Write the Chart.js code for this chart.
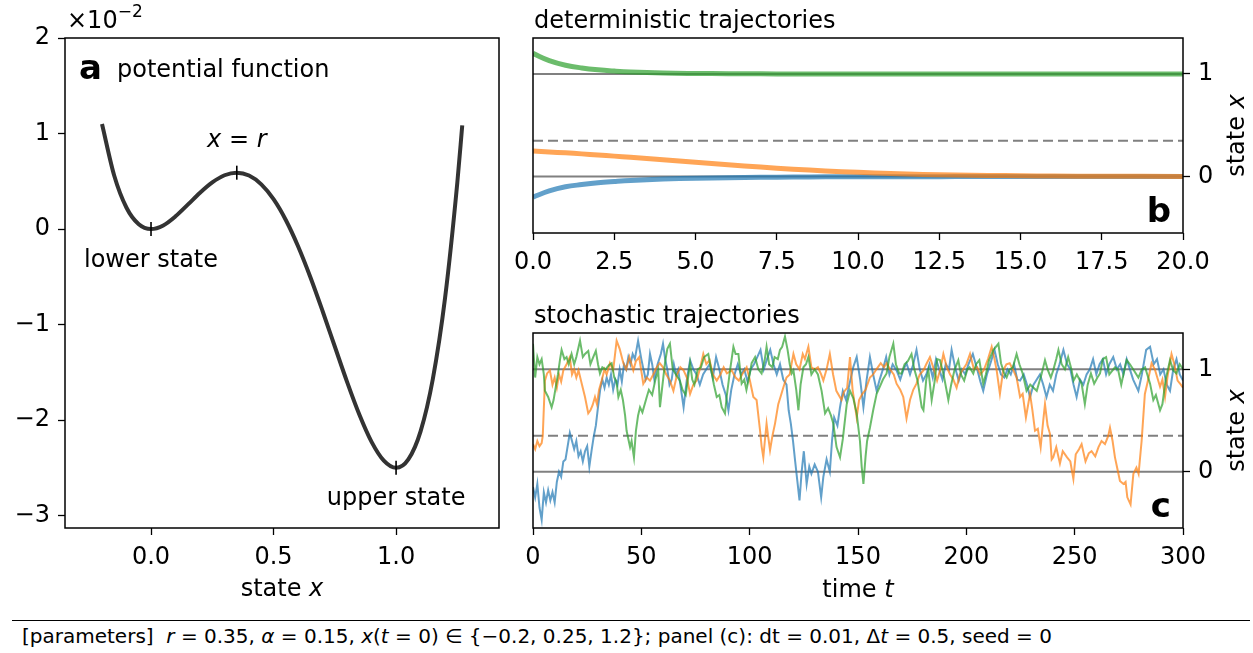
<!DOCTYPE html>
<html>
<head>
<meta charset="utf-8">
<script src="https://cdn.jsdelivr.net/npm/chart.js@4.4.1/dist/chart.umd.min.js"></script>
<style>
  body { margin: 0; background: #fff; width: 1253px; height: 653px; position: relative; overflow: hidden; font-family: "DejaVu Sans", sans-serif; }
  canvas { position: absolute; }
  #potChart { left: 0; top: 0; }
  #detChart { left: 500px; top: 0; }
  #stochChart { left: 500px; top: 300px; }
  #rule { position: absolute; left: 12px; top: 620px; width: 1238px; border-top: 1px solid #000; }
  #params { position: absolute; left: 22px; top: 624px; font-size: 20px; white-space: pre; color: #000; }
</style>
</head>
<body>
<canvas id="potChart" width="520" height="605"></canvas>
<canvas id="detChart" width="753" height="300"></canvas>
<canvas id="stochChart" width="753" height="305"></canvas>
<div id="rule"></div>
<div id="params">[parameters]  <i>r</i> = 0.35, <i>α</i> = 0.15, <i>x</i>(<i>t</i> = 0) ∈ {−0.2, 0.25, 1.2}; panel (c): dt = 0.01, Δ<i>t</i> = 0.5, seed = 0</div>
<script>
/* ---------- data ---------- */

// panel a: potential V(x), in units of 1e-2
var potX = [-0.2, -0.15, -0.1, -0.05, 0, 0.05, 0.1, 0.15, 0.2, 0.25, 0.3, 0.35, 0.4, 0.45, 0.5, 0.55, 0.6, 0.65,
            0.7, 0.75, 0.8, 0.85, 0.9, 0.95, 1.0, 1.05, 1.1, 1.15, 1.2, 1.25, 1.27];
var potV = [1.10, 0.558, 0.223, 0.050, 0, 0.038, 0.133, 0.255, 0.380, 0.488, 0.563, 0.590, 0.560, 0.468, 0.313, 0.095, -0.180, -0.502,
            -0.858, -1.230, -1.600, -1.942, -2.228, -2.425, -2.500, -2.412, -2.118, -1.570, -0.720, 0.488, 1.085];
var markX = [0, 0.35, 1.0];
var markV = [0, 0.590, -2.500];
var potTicksX = [0, 0.5, 1.0];
var potTicksY = [-3, -2, -1, 0, 1, 2];

// reference levels (stable states and threshold r)
var stableStates = [0, 1];
var thresholdR = 0.35;

// panel b: deterministic trajectories
var detT    = [0, 0.5, 1, 1.5, 2, 2.5, 3, 4, 5, 6, 7, 8, 9, 10, 11, 12, 13, 14, 15, 16, 17.5, 20];
var detLow  = [-0.2, -0.14, -0.1, -0.078, -0.06, -0.048, -0.038, -0.025, -0.016, -0.011, -0.007, -0.005, -0.003, -0.002,
               -0.0015, -0.001, -0.0007, -0.0005, -0.0003, -0.0002, -0.0001, 0];
var detMid  = [0.25, 0.24, 0.231, 0.221, 0.21, 0.199, 0.188, 0.164, 0.14, 0.115, 0.092, 0.072, 0.055, 0.041,
               0.03, 0.021, 0.015, 0.011, 0.008, 0.005, 0.003, 0.001];
var detHigh = [1.2, 1.13, 1.085, 1.058, 1.04, 1.028, 1.019, 1.009, 1.0045, 1.002, 1.001, 1.0, 1.0, 1.0,
               1.0, 1.0, 1.0, 1.0, 1.0, 1.0, 1.0, 1.0];
var detTicksT = [0, 2.5, 5, 7.5, 10, 12.5, 15, 17.5, 20];

// panel c: stochastic trajectories, [time, state]
var stochLow = [[0,-0.15],[1,-0.25],[2,-0.12],[3,-0.35],[4,-0.47],[5,-0.2],[6,-0.3],[7,-0.18],[8,-0.28],[9,-0.2],[10,-0.3],
  [11,-0.1],[12,0.0],[13,-0.05],[14,0.1],[15,0.12],[16,0.25],[17,0.38],[18,0.3],[19,0.22],[20,0.3],[21,0.15],[22,0.2],
  [23,0.1],[24,0.2],[25,0.25],[26,0.05],[27,0.2],[28,0.34],[29,0.45],[30,0.63],[31,0.8],[32,0.9],[33,0.82],[34,0.92],
  [35,0.85],[36,0.95],[37,0.8],[38,0.9],[39,0.85],[40,1.0],[41,0.88],[42,1.05],[43,1.0],[44,1.12],[45,1.05],[46,1.15],
  [47,1.1],[48.5,1.28],[50,1.1],[51,1.0],[52,0.9],[53,0.95],[54,1.15],[55,1.05],[56,0.9],[57.5,1.05],[59,1.15],[60,1.25],
  [61,1.1],[62,1.0],[63,0.85],[64,0.9],[65,1.05],[66,0.95],[67,1.0],[68,0.85],[69.5,0.63],[71,0.9],[72.5,1.09],[74,1.0],
  [75.5,0.95],[77,0.85],[78.5,0.95],[80,1.0],[81.5,1.05],[83,0.92],[84.5,1.12],[86,1.0],[87.5,0.85],[89,0.75],[90.2,0.6],
  [91.5,0.8],[93,0.95],[94.5,1.05],[96,0.95],[97.5,1.0],[99,0.88],[100.5,1.0],[102,1.05],[103.5,1.12],[105,1.19],
  [106.5,1.0],[108,1.1],[109.5,1.19],[111,1.05],[112.5,0.95],[114,1.05],[115.5,0.9],[117,0.85],[118,0.6],[119,0.47],
  [120,0.3],[121,0.1],[122,-0.09],[123,-0.28],[124,0.0],[125,0.2],[126.3,-0.12],[127.5,0.05],[128.5,-0.02],[130,0.07],
  [131.5,0.0],[133,-0.25],[134,-0.05],[135.5,0.12],[137,0.0],[138,0.3],[139,0.53],[140.5,0.45],[141.7,0.63],[143,0.79],
  [144.5,0.7],[146,0.85],[147.8,1.02],[149.4,1.12],[151,0.9],[152.5,0.63],[154,0.9],[155.5,1.12],[157,0.95],[158.6,0.79],
  [160,0.9],[161.5,1.0],[163,1.12],[164.5,0.95],[166,1.05],[167.8,0.99],[169.5,0.9],[171,1.0],[172.4,1.06],[174,0.95],
  [175.5,1.05],[177,1.19],[178.5,1.0],[180,0.89],[181.5,0.95],[183,1.05],[184.5,0.92],[186,1.1],[187.5,1.0],[189,0.9],
  [190.5,1.05],[192,1.0],[193.2,1.19],[195,1.0],[196.5,0.89],[198,1.0],[199.5,0.95],[201,1.05],[203,1.15],[205,1.0],
  [206.5,0.88],[207.8,0.79],[209.5,0.95],[211,1.05],[213,1.19],[214.5,1.05],[216,0.95],[217.5,0.92],[219,1.0],[220.5,0.95],
  [222,1.05],[223.5,0.9],[224.8,0.89],[226.5,0.95],[228,0.85],[229.4,0.73],[231,0.85],[232.5,0.9],[234,0.95],[235.5,0.85],
  [237,0.73],[238.5,0.85],[240,0.79],[241.5,0.95],[243,1.05],[244.8,1.19],[246.5,1.05],[248,1.0],[249.5,0.85],[250.9,0.73],
  [252.5,0.9],[254,0.85],[255.5,0.95],[257,1.0],[258.5,1.1],[260,0.95],[261.5,1.05],[263,1.1],[264.5,0.95],[266,1.05],
  [267.8,1.12],[269.5,1.0],[271,1.05],[272.5,0.95],[274,1.1],[275.5,1.0],[277,0.9],[279.4,0.79],[281,0.95],[283,1.19],
  [284.8,1.22],[286.5,1.05],[288,1.1],[289.5,0.95],[291,1.0],[292.5,0.85],[294,0.79],[295.5,1.0],[297,1.1],[298.5,0.95],[300,0.89]];

var stochMid = [[0,0.27],[1,0.22],[2,0.3],[3,0.25],[4,0.28],[4.5,0.35],[5.5,0.89],[6.5,0.96],[7.8,0.99],[9,0.85],[10,0.92],
  [11,0.82],[12,0.95],[13,0.88],[14,0.99],[15.5,1.05],[17,1.12],[18,0.95],[19,1.0],[20,0.92],[21,0.99],[22.5,0.86],[24,0.73],
  [25.5,0.57],[26.5,0.6],[27.5,0.65],[28.6,0.73],[29.5,0.66],[30.5,0.8],[31.7,0.89],[33,1.0],[34,0.95],[35.5,1.06],[37,0.99],
  [38.6,1.28],[40,1.2],[41.7,1.06],[43,1.0],[44.5,1.12],[46.3,0.99],[47.5,1.08],[49,1.12],[50.9,0.86],[52.5,0.92],[54,0.89],
  [55.5,0.95],[57.1,1.02],[58.5,1.06],[60,1.02],[61.5,0.95],[63.2,0.89],[64.8,0.79],[66.5,0.95],[68,1.02],[69.5,0.99],
  [71,0.92],[72.5,0.76],[74,0.85],[75.5,0.89],[77,1.0],[78.6,1.15],[80,1.05],[81.5,1.09],[83,0.95],[84.8,0.89],[86.5,0.95],
  [88,1.02],[89.5,0.96],[91.7,0.99],[93.5,0.92],[95,0.89],[96.5,0.95],[98.6,1.02],[100,0.9],[101.7,0.73],[103.2,0.7],
  [104.8,0.4],[105.5,0.25],[106.3,0.14],[107,0.3],[107.8,0.47],[108.5,0.35],[109.4,0.21],[110.5,0.35],[111.7,0.47],
  [113.2,0.66],[114.5,0.75],[115.5,0.82],[117,0.92],[118.5,0.95],[119.4,1.06],[120.2,1.15],[121.5,1.05],[123,1.0],
  [124.5,1.15],[125.5,1.1],[127.1,1.22],[128.5,1.02],[130,1.0],[131.5,1.02],[133,0.95],[134,0.89],[135.5,1.0],[137,1.15],
  [138.5,0.95],[140,0.79],[142.4,0.7],[143.5,0.78],[145,0.82],[146.3,1.12],[147.5,0.8],[149.4,0.53],[150.5,0.7],[152,0.76],
  [153.5,0.8],[155.5,0.92],[157,0.95],[158.5,1.0],[160.5,1.06],[162,1.02],[163.2,1.06],[164.8,1.0],[166.5,0.95],[167.8,0.86],
  [169.5,0.8],[170.9,0.73],[172.4,0.52],[174,0.7],[175.5,0.8],[177,0.86],[178.5,0.95],[180.2,0.99],[181.5,1.05],[183.2,1.12],
  [185,1.0],[186.5,0.89],[188,1.0],[189.4,1.15],[191,1.02],[192.5,0.95],[194,0.9],[195.5,0.82],[197,0.95],[198.5,1.0],
  [200,1.05],[201.7,1.15],[203.5,1.0],[205,1.02],[206.5,0.95],[208,0.99],[210,1.1],[211.7,1.22],[213,1.1],[214,0.99],
  [215.5,0.76],[217,0.99],[218.5,1.05],[220,1.06],[221.5,1.0],[223.2,0.92],[224.8,0.73],[226,0.76],[227.5,0.53],[229.4,0.76],
  [230.5,0.6],[231.7,0.4],[233,0.42],[234.3,0.24],[235.5,0.5],[236.3,0.66],[237.5,0.45],[238.6,0.37],[239.4,0.12],
  [240.1,0.14],[241.5,0.24],[243.2,0.08],[244.5,0.2],[246.5,0.14],[248,0.1],[249.4,-0.07],[250.5,0.17],[252,0.22],
  [253.2,0.27],[255,0.1],[256.5,0.18],[257.8,0.2],[259.5,0.15],[261,0.24],[262.4,0.3],[264,0.27],[265.5,0.35],[266.3,0.43],
  [267.5,0.3],[268.6,0.14],[270,0.0],[270.9,-0.09],[272.5,-0.12],[273.5,-0.1],[274.3,-0.25],[275.8,-0.32],[277.1,-0.02],
  [278.5,0.04],[279.5,-0.02],[280.9,0.3],[282.4,0.76],[283.5,0.86],[285.5,1.06],[287,1.0],[289.4,0.83],[290.5,0.9],
  [291.7,0.73],[293,0.95],[294.7,1.15],[296,1.05],[297.5,0.89],[299,0.85],[300,0.82]];

var stochHigh = [[0,1.25],[1,0.92],[2,1.12],[3,1.05],[4,1.1],[5,0.95],[5.5,0.79],[7,0.73],[8.6,0.63],[9.5,0.7],[10.2,0.79],
  [11.5,0.95],[12.5,1.1],[13.2,1.19],[14.5,1.1],[15.5,1.12],[16.5,1.05],[17.8,1.15],[19,1.05],[20,1.12],[21.7,1.28],[23,1.12],
  [24,1.15],[25.5,1.18],[26.5,1.05],[27.8,1.12],[29,1.18],[30,1.05],[30.9,0.96],[32,1.02],[33.5,1.0],[35,1.04],[36.3,1.06],
  [37.5,0.92],[38.5,0.88],[39.4,0.73],[40.5,0.8],[41.5,0.7],[42.5,0.55],[43.2,0.4],[44,0.32],[44.8,0.24],[45.5,0.3],
  [46.6,0.14],[47.5,0.4],[48.5,0.55],[49.4,0.63],[50.5,0.58],[52.5,0.73],[53.5,0.8],[55,0.75],[56.5,0.9],[57.8,0.99],
  [58.6,0.63],[59.5,0.8],[60.9,1.06],[62,1.2],[63.2,1.25],[64.5,1.0],[66,0.95],[67.8,0.89],[69,0.8],[70.5,0.75],[72.5,1.06],
  [73.5,0.9],[74.5,0.85],[76,1.0],[77.5,1.02],[79,1.12],[80.9,1.15],[82,1.02],[83.5,0.85],[84.8,0.73],[86,0.75],[87.1,0.63],
  [88.6,0.57],[89.5,0.75],[91,1.0],[92.5,1.22],[93.5,1.15],[94.8,1.15],[96.3,0.86],[97.5,0.9],[98.5,0.8],[100,0.95],
  [100.9,1.06],[102.5,1.12],[104,1.0],[105.5,0.96],[107,1.1],[107.8,1.22],[109,1.05],[110.5,1.02],[111.5,1.12],[113,1.1],
  [114,1.19],[115,1.22],[116.3,1.32],[117.5,1.19],[118.5,1.05],[119.4,0.96],[120.2,0.99],[121.5,0.8],[122.5,0.6],[123.5,0.85],
  [124.8,1.02],[126,1.05],[127.1,1.12],[128.5,0.95],[130,1.0],[131.5,0.95],[133.2,0.79],[134.8,0.57],[136.2,0.62],[137.5,0.55],
  [138.6,0.47],[140.1,0.24],[141.7,0.14],[143,0.32],[144.8,0.66],[146.3,0.79],[147.8,0.72],[149.4,0.57],[150.9,0.3],
  [151.7,0.05],[152.5,-0.12],[153.5,0.15],[154.2,0.3],[155.5,0.43],[157,0.6],[158.6,0.76],[160.5,0.85],[161.5,0.9],
  [163.2,0.96],[164.5,1.12],[166.3,1.25],[167.5,1.05],[169,0.96],[170.1,0.96],[171.5,1.05],[173,1.08],[174.7,1.15],[176,1.0],
  [177.5,0.89],[179.4,0.63],[180.2,0.6],[181.5,0.9],[182.5,0.99],[184,0.7],[185.5,0.9],[186.5,1.1],[187.8,1.09],[189.5,0.95],
  [191.7,0.7],[193,0.85],[194.5,0.99],[196.3,1.09],[197.5,0.95],[199,0.89],[200.5,1.0],[201.5,1.02],[203.2,0.96],[204.5,1.05],
  [206,1.09],[207.8,0.86],[209,0.95],[210.5,1.09],[212.5,1.19],[214.8,1.25],[216,1.06],[217.5,0.96],[218.6,0.92],[220,1.0],
  [221.5,1.02],[223.2,1.15],[224.5,1.05],[226,0.96],[227.8,0.79],[229.5,0.85],[231,0.82],[232.5,0.79],[234,0.9],[234.8,0.96],
  [236.3,1.09],[237.5,1.0],[239,0.92],[240.1,0.99],[241.5,1.1],[242.5,1.19],[244,1.05],[245.5,1.0],[247,1.12],[248.5,1.0],
  [249.5,0.89],[251,0.95],[253.2,0.86],[254.7,0.66],[256,0.85],[257.5,0.96],[259,0.86],[260.5,0.92],[261.7,0.96],[263,1.1],
  [264.5,1.12],[266,0.95],[268.6,1.02],[270,1.0],[271.5,0.85],[272.5,0.95],[274,1.09],[275.5,1.05],[277,1.0],[279.4,0.92],
  [281,1.0],[282.5,1.02],[284.8,0.86],[286.3,0.7],[287.5,0.75],[289.4,0.6],[290.5,0.66],[292,0.9],[294,1.09],[295.5,0.99],
  [297,0.96],[298.5,1.05],[300,1.0]];
var stochTicksT = [0, 50, 100, 150, 200, 250, 300];
var stateTicks = [0, 1];

/* ---------- helpers ---------- */

var FAM = '"DejaVu Sans", sans-serif';
var blueC   = 'rgba(31, 119, 180, 0.7)';
var orangeC = 'rgba(255, 127, 14, 0.7)';
var greenC  = 'rgba(44, 160, 44, 0.7)';
var greyC   = '#808080';

function font(size, style) { return (style || '') + ' ' + size + 'px ' + FAM; }

// draw mixed-style text: parts = [[text, font, dy], ...]
function richText(ctx, parts, x, y, align) {
	var w = 0;
	parts.forEach(function (p) { ctx.font = p[1]; p.w = ctx.measureText(p[0]).width; w += p.w; });
	var cx = align === 'center' ? x - w / 2 : (align === 'right' ? x - w : x);
	ctx.textAlign = 'left';
	ctx.textBaseline = 'alphabetic';
	ctx.fillStyle = '#000';
	parts.forEach(function (p) { ctx.font = p[1]; ctx.fillText(p[0], cx, y + (p[2] || 0)); cx += p.w; });
}

function pairs(xs, ys) { return xs.map(function (x, i) { return { x: x, y: ys[i] }; }); }
function tv(list) { return list.map(function (p) { return { x: p[0], y: p[1] }; }); }
function hline(v, x0, x1) { return [{ x: x0, y: v }, { x: x1, y: v }]; }

function axis(pos, min, max, tickVals, fmt, size) {
	return {
		type: 'linear', position: pos, min: min, max: max,
		afterBuildTicks: function (s) { s.ticks = tickVals.map(function (v) { return { value: v }; }); },
		afterFit: function (s) { if (pos === 'bottom') s.height = size; else s.width = size; },
		ticks: { color: '#000', font: { family: FAM, size: 24 }, padding: 8, autoSkip: false, maxRotation: 0, callback: fmt },
		grid: { display: true, drawOnChartArea: false, drawTicks: true, tickLength: 7, tickWidth: 1.3, tickColor: '#000' },
		border: { display: false }
	};
}

var framePlugin = {
	id: 'frame',
	afterDatasetsDraw: function (chart) {
		var a = chart.chartArea, ctx = chart.ctx;
		ctx.save();
		ctx.strokeStyle = '#000';
		ctx.lineWidth = 1.5;
		ctx.strokeRect(a.left, a.top, a.right - a.left, a.bottom - a.top);
		ctx.restore();
	}
};

function minus(v) { return v < 0 ? '\u2212' + Math.abs(v) : String(v); }

var baseOpts = {
	responsive: false, animation: false, devicePixelRatio: 1,
	plugins: { legend: { display: false }, tooltip: { enabled: false } }
};

function opts(padding, scales) {
	return Object.assign({}, baseOpts, { layout: { padding: padding }, scales: scales });
}

/* ---------- panel a ---------- */

var potText = {
	id: 'potText',
	afterDraw: function (chart) {
		var ctx = chart.ctx, xs = chart.scales.x, ys = chart.scales.y, a = chart.chartArea;
		ctx.save();
		richText(ctx, [['\u00d710', font(24)], ['\u22122', font(17), -11]], 67, 28, 'left');
		richText(ctx, [['a', font(34, 'bold')]], 79, 79, 'left');
		richText(ctx, [['potential function', font(24)]], 117, 77, 'left');
		richText(ctx, [['x', font(24, 'italic')], [' = ', font(24)], ['r', font(24, 'italic')]],
			xs.getPixelForValue(markX[1]), ys.getPixelForValue(markV[1]) - 26, 'center');
		richText(ctx, [['lower state', font(24)]], xs.getPixelForValue(markX[0]), ys.getPixelForValue(markV[0]) + 38, 'center');
		richText(ctx, [['upper state', font(24)]], xs.getPixelForValue(markX[2]), ys.getPixelForValue(markV[2]) + 37, 'center');
		richText(ctx, [['state ', font(24)], ['x', font(24, 'italic')]], (a.left + a.right) / 2, 596, 'center');
		ctx.restore();
	}
};

new Chart(document.getElementById('potChart'), {
	type: 'scatter',
	data: {
		datasets: [{
			data: pairs(markX, markV),
			pointStyle: 'line', pointRotation: 90, pointRadius: 7,
			borderColor: '#000', borderWidth: 1.6, order: 0
		}, {
			data: pairs(potX, potV),
			showLine: true, pointRadius: 0, borderColor: '#333333', borderWidth: 4,
			cubicInterpolationMode: 'monotone', order: 1
		}]
	},
	options: opts({ left: 0, top: 38, right: 21, bottom: 0 }, {
		x: axis('bottom', -0.351, 1.42, potTicksX, function (v) { return v.toFixed(1); }, 77),
		y: axis('left', -3.13, 2.0, potTicksY, minus, 65)
	}),
	plugins: [framePlugin, potText]
});

/* ---------- panel b ---------- */

function stateLabel(ctx, a, x) {
	ctx.save();
	ctx.translate(x, (a.top + a.bottom) / 2);
	ctx.rotate(-Math.PI / 2);
	richText(ctx, [['state ', font(24)], ['x', font(24, 'italic')]], 0, 0, 'center');
	ctx.restore();
}

var detText = {
	id: 'detText',
	afterDraw: function (chart) {
		var ctx = chart.ctx, a = chart.chartArea;
		richText(ctx, [['deterministic trajectories', font(24)]], 34, 28, 'left');
		richText(ctx, [['b', font(34, 'bold')]], a.right - 12, a.bottom - 11, 'right');
		stateLabel(ctx, a, 744);
	}
};

var refSets = function (x0, x1) {
	return [{
		data: hline(stableStates[0], x0, x1), showLine: true, pointRadius: 0, borderColor: greyC, borderWidth: 2, order: 10
	}, {
		data: hline(stableStates[1], x0, x1), showLine: true, pointRadius: 0, borderColor: greyC, borderWidth: 2, order: 10
	}, {
		data: hline(thresholdR, x0, x1), showLine: true, pointRadius: 0, borderColor: greyC, borderWidth: 2,
		borderDash: [10, 5], order: 10
	}];
};

new Chart(document.getElementById('detChart'), {
	type: 'scatter',
	data: {
		datasets: refSets(0, 20).concat([
			{ data: pairs(detT, detLow),  showLine: true, pointRadius: 0, borderColor: blueC,   borderWidth: 5, tension: 0.4, order: 3 },
			{ data: pairs(detT, detMid),  showLine: true, pointRadius: 0, borderColor: orangeC, borderWidth: 5, tension: 0.4, order: 2 },
			{ data: pairs(detT, detHigh), showLine: true, pointRadius: 0, borderColor: greenC,  borderWidth: 5, tension: 0.4, order: 1 }
		])
	},
	options: opts({ left: 33, top: 38, right: 0, bottom: 0 }, {
		x: axis('bottom', 0, 20, detTicksT, function (v) { return v.toFixed(1); }, 67),
		y: axis('right', -0.55, 1.35, stateTicks, String, 70)
	}),
	plugins: [framePlugin, detText]
});

/* ---------- panel c ---------- */

var stochText = {
	id: 'stochText',
	afterDraw: function (chart) {
		var ctx = chart.ctx, a = chart.chartArea;
		richText(ctx, [['stochastic trajectories', font(24)]], 34, 23, 'left');
		richText(ctx, [['c', font(34, 'bold')]], a.right - 12, a.bottom - 11, 'right');
		richText(ctx, [['time ', font(24)], ['t', font(24, 'italic')]], (a.left + a.right) / 2, 297, 'center');
		stateLabel(ctx, a, 744);
	}
};

new Chart(document.getElementById('stochChart'), {
	type: 'scatter',
	data: {
		datasets: refSets(0, 300).concat([
			{ data: tv(stochLow),  showLine: true, pointRadius: 0, borderColor: blueC,   borderWidth: 2, order: 3 },
			{ data: tv(stochMid),  showLine: true, pointRadius: 0, borderColor: orangeC, borderWidth: 2, order: 2 },
			{ data: tv(stochHigh), showLine: true, pointRadius: 0, borderColor: greenC,  borderWidth: 2, order: 1 }
		])
	},
	options: opts({ left: 33, top: 33, right: 0, bottom: 0 }, {
		x: axis('bottom', 0, 300, stochTicksT, String, 77),
		y: axis('right', -0.55, 1.355, stateTicks, String, 70)
	}),
	plugins: [framePlugin, stochText]
});
</script>
</body>
</html>
